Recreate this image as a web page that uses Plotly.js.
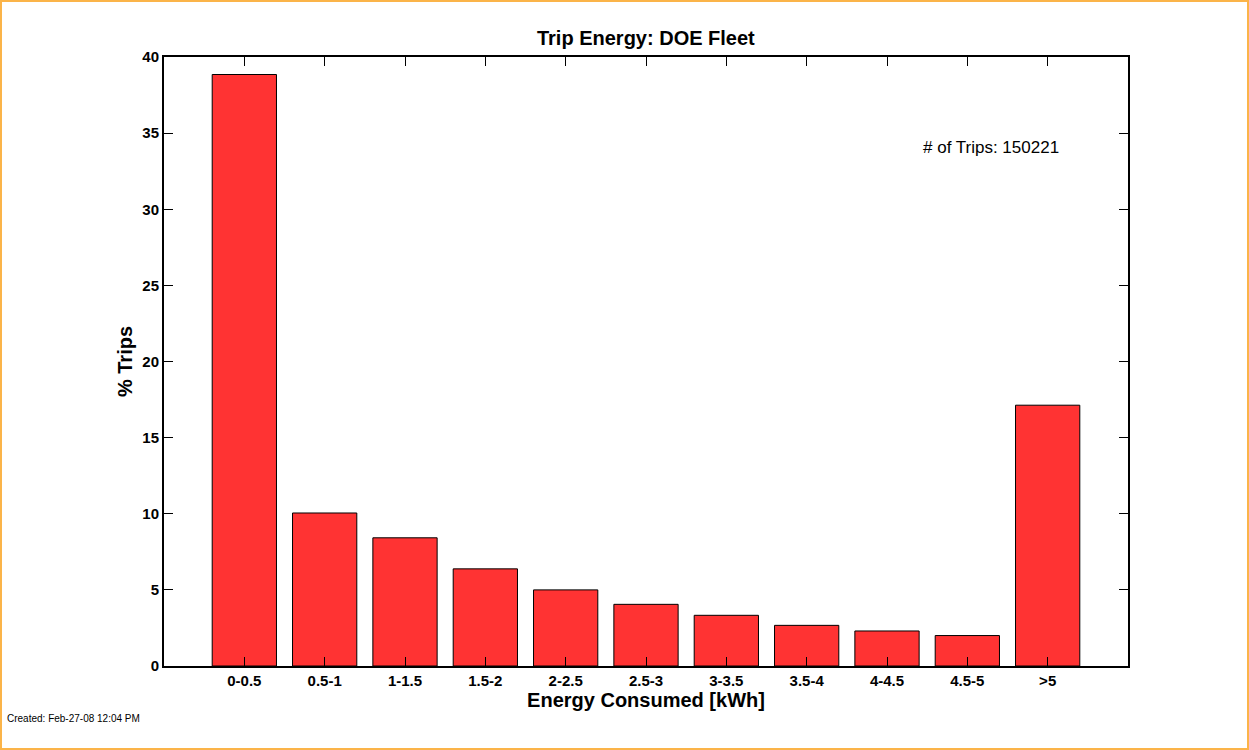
<!DOCTYPE html>
<html><head><meta charset="utf-8">
<script src="https://cdn.plot.ly/plotly-3.0.1.min.js"></script>
<style>
html,body{margin:0;padding:0;background:#fff;}
#wrap{position:relative;width:1249px;height:750px;}
#chart{position:absolute;left:0;top:0;width:1249px;height:750px;}
#frame{position:absolute;left:0;top:0;width:1249px;height:750px;box-sizing:border-box;border:2px solid #fbb449;pointer-events:none;}
</style></head>
<body>
<div id="wrap"><div id="chart"></div><div id="frame"></div></div>
<script>
const categories = ['0-0.5','0.5-1','1-1.5','1.5-2','2-2.5','2.5-3','3-3.5','3.5-4','4-4.5','4.5-5','>5'];
const pctTrips = [38.85, 10.05, 8.42, 6.38, 5.0, 4.05, 3.33, 2.67, 2.3, 2.0, 17.13];
const yTicks = [0,5,10,15,20,25,30,35,40];
const tripCountLabel = '# of Trips: 150221';
const createdLabel = 'Created: Feb-27-08 12:04 PM';

const font = 'Liberation Sans, Arial, sans-serif';
const trace = {
  type: 'bar',
  x: categories.map((c,i)=>i),
  y: pctTrips,
  width: 0.8,
  marker: {color: '#ff3333', line: {color: '#000', width: 1}},
  hoverinfo: 'skip'
};
const layout = {
  width: 1249, height: 750,
  margin: {l:164, r:121, t:57, b:84},
  paper_bgcolor: '#fff', plot_bgcolor: '#fff',
  showlegend: false,
  title: {text: 'Trip Energy: DOE Fleet', font: {family: font, size: 20, color: '#000', weight: 'bold'}, x: 0.5171, xanchor: 'center', y: 0.949, yanchor: 'middle'},
  xaxis: {
    range: [-1, 11],
    tickmode: 'array', tickvals: categories.map((c,i)=>i), ticktext: categories,
    ticks: 'inside', ticklen: 9, tickcolor: '#000', tickwidth: 1,
    showline: true, linecolor: '#000', linewidth: 2, mirror: 'ticks',
    showgrid: false, zeroline: false,
    tickfont: {family: font, size: 15, color: '#000', weight: 'bold'},
    title: {text: 'Energy Consumed [kWh]', font: {family: font, size: 20, color: '#000', weight: 'bold'}, standoff: 0}
  },
  yaxis: {
    range: [0, 40],
    tickmode: 'array', tickvals: yTicks,
    ticks: 'inside', ticklen: 9, tickcolor: '#000', tickwidth: 1,
    showline: true, linecolor: '#000', linewidth: 2, mirror: 'ticks',
    showgrid: false, zeroline: false,
    tickfont: {family: font, size: 15, color: '#000', weight: 'bold'},
    title: {text: '% Trips', font: {family: font, size: 20, color: '#000', weight: 'bold'}, standoff: 4}
  },
  annotations: [
    {text: tripCountLabel, xref: 'paper', yref: 'paper', x: 0.785, y: 0.852, xanchor: 'left', yanchor: 'middle', showarrow: false, font: {family: font, size: 17, color: '#000'}},
    {text: createdLabel, xref: 'paper', yref: 'paper', x: -0.165, y: -0.087, xanchor: 'left', yanchor: 'middle', showarrow: false, font: {family: font, size: 10, color: '#000'}}
  ]
};
Plotly.newPlot('chart', [trace], layout, {displayModeBar: false, staticPlot: true});
</script>
</body></html>
